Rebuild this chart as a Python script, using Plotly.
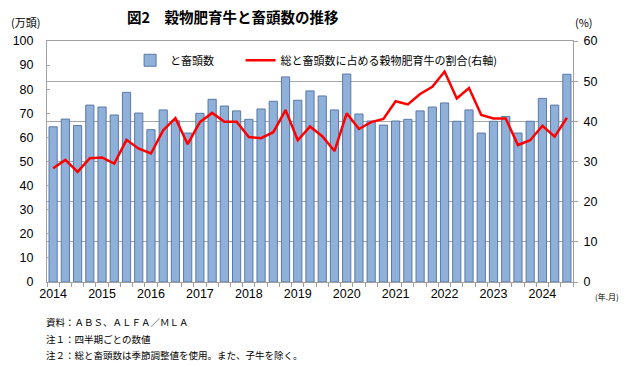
import plotly.graph_objects as go

years = [str(y) for y in range(2014, 2025)]
quarters = ["3", "6", "9", "12"]
categories = [f"{y}.{q}" for y in years for q in quarters][:43]

# と畜頭数（万頭）
slaughter = [64.4, 67.6, 64.9, 73.4, 72.6, 69.3, 78.7, 70.1, 63.2, 71.4,
             66.9, 61.8, 70.0, 75.8, 73.0, 71.0, 67.5, 71.8, 75.0, 85.1,
             75.4, 79.3, 77.2, 71.4, 86.3, 69.7, 66.8, 65.1, 66.8, 67.5,
             71.0, 72.6, 74.3, 66.7, 71.4, 61.8, 66.7, 68.7, 61.8, 66.7,
             76.2, 73.4, 86.2]
# 穀物肥育牛の割合（%）
share = [28.3, 30.4, 27.4, 30.8, 31.0, 29.5, 35.4, 33.2, 32.0, 37.8,
         40.8, 34.3, 39.8, 42.1, 39.9, 39.9, 36.1, 35.8, 37.3, 42.8,
         35.3, 38.7, 36.3, 32.6, 42.0, 38.1, 39.8, 40.6, 45.0, 44.2,
         46.8, 48.6, 52.4, 45.7, 48.3, 41.6, 40.7, 40.7, 34.1, 35.3,
         38.9, 36.2, 40.9]

tick_text = [c.split(".")[0] if c.endswith(".3") else "" for c in categories]

JP = "Noto Sans CJK JP"
NUM = "Liberation Sans, Arial, sans-serif"

fig = go.Figure()
fig.add_trace(go.Bar(
    x=categories, y=slaughter, name="と畜頭数",
    marker=dict(color="#8FB0D9", line=dict(color="#5B79A6", width=1)),
    yaxis="y", legend="legend",
))
fig.add_trace(go.Scatter(
    x=categories, y=share, name="総と畜頭数に占める穀物肥育牛の割合(右軸)",
    mode="lines", line=dict(color="#FF0000", width=2.5),
    yaxis="y2", legend="legend2",
))

leg_common = dict(orientation="h", yanchor="middle", xanchor="left", y=0.92,
                  font=dict(family=JP, size=11, color="#000"),
                  bgcolor="rgba(255,255,255,0)", itemwidth=30)

fig.update_layout(
    width=640, height=367,
    margin=dict(l=47, r=67, t=41, b=85),
    paper_bgcolor="white", plot_bgcolor="white",
    bargap=0.33,
    showlegend=True,
    legend=dict(x=0.158, **leg_common),
    legend2=dict(x=0.368, **leg_common),
    xaxis=dict(
        type="category", tickmode="array", tickvals=categories, ticktext=tick_text,
        tickson="boundaries", ticks="outside", ticklen=4, tickcolor="#A0A0A0",
        showline=True, linecolor="#A0A0A0", mirror=True, showgrid=False,
        tickfont=dict(family=NUM, size=12.5, color="#000"),
        tickangle=0, automargin=False,
        range=[-0.5, 42.5],
    ),
    yaxis=dict(
        range=[0, 100], dtick=10, showgrid=False, zeroline=False,
        showline=True, linecolor="#A0A0A0", ticks="inside", ticklen=3, tickcolor="#A0A0A0",
        tickfont=dict(family=NUM, size=12.5, color="#000"),
        ticklabelstandoff=10, automargin=False,
    ),
    yaxis2=dict(
        range=[0, 60], dtick=10, overlaying="y", side="right",
        showgrid=True, gridcolor="#A6A6A6", gridwidth=1, zeroline=False,
        showline=True, linecolor="#A0A0A0", ticks="outside", ticklen=4, tickcolor="#A0A0A0",
        tickfont=dict(family=NUM, size=12.5, color="#000"),
        ticklabelstandoff=3, automargin=False,
    ),
)

anns = [
    dict(text="<b>図2　穀物肥育牛と畜頭数の推移</b>", x=0.148, y=1.0996, xanchor="left",
         yanchor="middle", font=dict(family=JP, size=14.5, color="#000")),
    dict(text="(万頭)", x=-0.072, y=1.079, xanchor="left", yanchor="middle",
         font=dict(family=JP, size=11, color="#000")),
    dict(text="(%)", x=1.0, y=1.079, xanchor="left", yanchor="middle",
         font=dict(family=JP, size=11, color="#000")),
    dict(text="(年.月)", x=1.038, y=-0.062, xanchor="left", yanchor="middle",
         font=dict(family=JP, size=8, color="#000")),
    dict(text="資料：ＡＢＳ、ＡＬＦＡ／ＭＬＡ", x=-0.006, y=-0.166, xanchor="left",
         yanchor="middle", font=dict(family=JP, size=9.5, color="#000")),
    dict(text="注１：四半期ごとの数値", x=-0.006, y=-0.2365, xanchor="left",
         yanchor="middle", font=dict(family=JP, size=9.5, color="#000")),
    dict(text="注２：総と畜頭数は季節調整値を使用。また、子牛を除く。", x=-0.006, y=-0.303,
         xanchor="left", yanchor="middle", font=dict(family=JP, size=9.5, color="#000")),
]
for a in anns:
    a.update(xref="paper", yref="paper", showarrow=False)
fig.update_layout(annotations=anns)

fig.write_html("out.html", config={"displayModeBar": False},
               post_script="document.body.style.margin='0';")
